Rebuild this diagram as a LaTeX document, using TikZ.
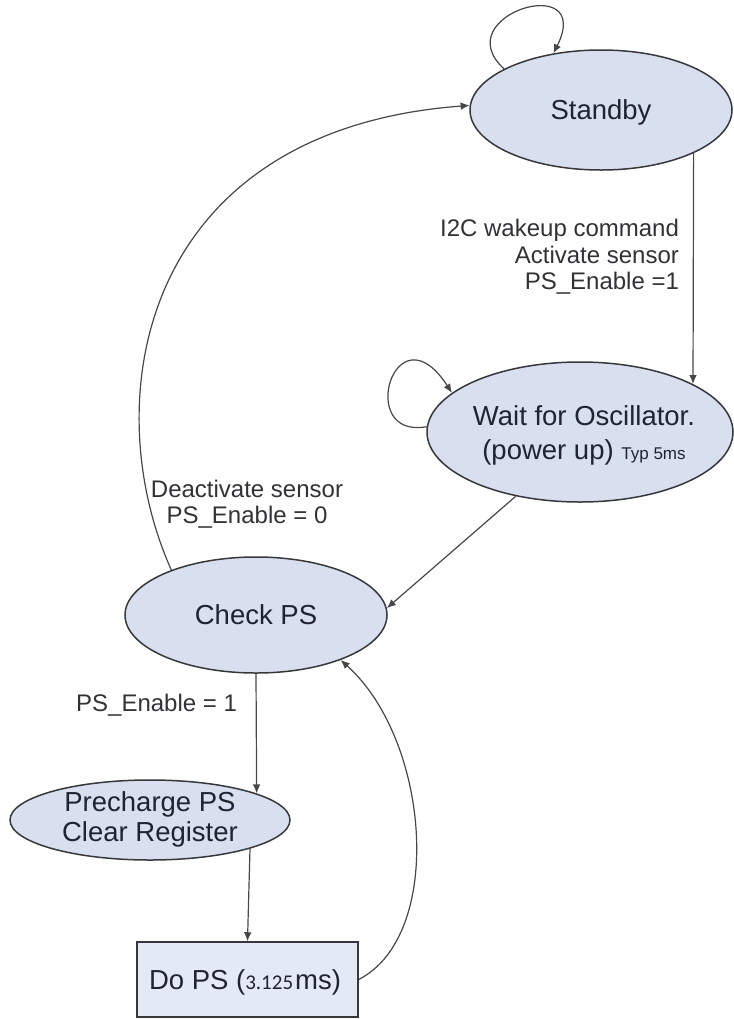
\documentclass[tikz,border=0pt]{standalone}
\usepackage{fontspec}
\setmainfont{Liberation Sans}
\newfontfamily\carlito{Carlito}
\usetikzlibrary{shapes.geometric,arrows.meta}
\definecolor{stfill}{RGB}{216,224,239}
\definecolor{boxfill}{RGB}{228,234,245}
\definecolor{edgecol}{RGB}{55,55,60}
\definecolor{txtcol}{RGB}{32,35,48}
\definecolor{lblcol}{RGB}{50,50,52}

\begin{document}
\begin{tikzpicture}[x=0.5pt,y=-0.5pt,
    state/.style={ellipse,draw=edgecol,line width=0.75pt,fill=stfill,inner sep=0pt},
    dobox/.style={rectangle,draw=edgecol,line width=0.75pt,fill=boxfill,minimum width=110.5pt,minimum height=37.5pt,inner sep=0pt},
    stxt/.style={align=center,text=txtcol,font=\fontsize{13.75}{17}\selectfont},
    lbl/.style={text=lblcol,font=\fontsize{12}{13.25}\selectfont},
    trans/.style={draw=black!72,line width=0.6pt,-{Latex[length=4.5pt,width=3.8pt]}}]

\useasboundingbox (0,0) rectangle (734,1019);

\node[state,minimum width=131pt,minimum height=60pt] (sb) at (601,110) {};
\node[state,minimum width=153pt,minimum height=70pt] (wait) at (580,432) {};
\node[state,minimum width=131pt,minimum height=58pt] (chk) at (256,615) {};
\node[state,minimum width=140pt,minimum height=40pt] (pre) at (150,820) {};
\node[dobox] (dops) at (247.5,979.5) {};

\node[stxt] (sb-t) at (601,112) {Standby};
\node[stxt] (wait-t) at (584,435) {Wait for Oscillator.\\(power up) {\fontsize{8.5}{9}\selectfont Typ 5ms}};
\node[stxt] (chk-t) at (256,615) {Check PS};
\node[stxt,font=\fontsize{13.75}{15}\selectfont] (pre-t) at (150,819) {Precharge PS\\Clear Register};
\node[stxt] (dops-t) at (245,982) {Do PS ({\carlito\fontsize{10.5}{12}\selectfont 3.125}\kern1pt ms)};

\node[lbl,align=right,anchor=east] (wake) at (686,257) {I2C wakeup command\\Activate sensor\\PS\_Enable =1};
\node[lbl,align=center] (deact) at (247,504) {Deactivate sensor\\PS\_Enable = 0};
\node[lbl,anchor=east] (en1) at (244,705) {PS\_Enable = 1};

\draw[trans] (sb.157) .. controls (445,15) and (595,-30) .. (sb.130);
\draw[trans] (sb.-25) -- (wait.23);
\draw[trans] (wait.178) .. controls (355,440) and (395,305) .. (wait.163);
\draw[trans] (wait.225) -- (chk.3);
\draw[trans] (chk.152) .. controls (95,400) and (140,130) .. (sb.178);
\draw[trans] (chk.south) -- (pre.14);
\draw[trans] (pre.-16) -- (dops.north);
\draw[trans] (dops.east) .. controls (445,935) and (430,740) .. (chk.-28);
\end{tikzpicture}
\end{document}
